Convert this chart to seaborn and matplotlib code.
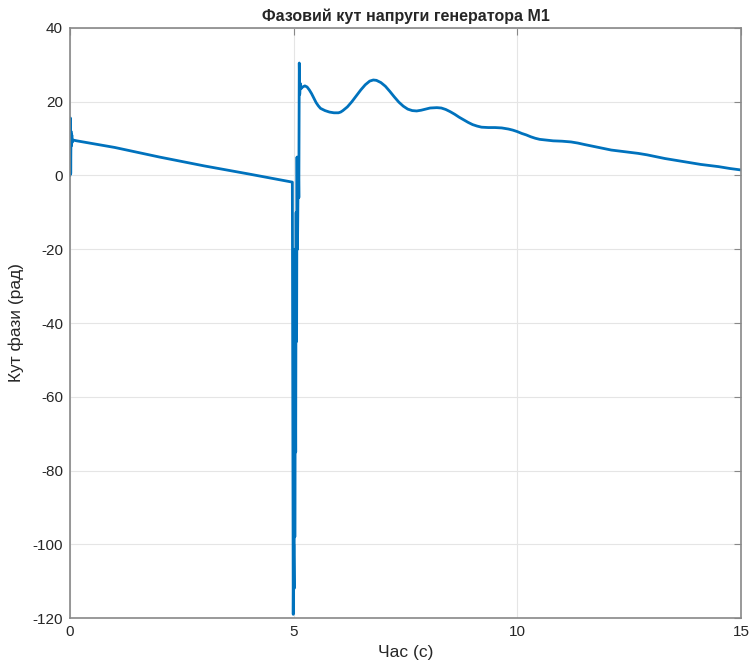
import numpy as np
import pandas as pd
import matplotlib
matplotlib.use("Agg")
import matplotlib.pyplot as plt
import seaborn as sns

# Phase angle of generator M1 voltage
time_start = [0.0, 0.008, 0.015, 0.022, 0.03, 0.04, 0.05, 0.07, 0.15, 1.0, 2.0, 3.0, 4.0, 4.97]
angle_start = [0.0, 15.6, 0.5, 12.0, 8.0, 11.0, 9.0, 9.6, 9.4, 7.6, 5.0, 2.6, 0.4, -1.8]

time_fault = [4.98, 4.99, 5.00, 5.01, 5.02, 5.025, 5.035, 5.045, 5.055, 5.065,
              5.075, 5.085, 5.095, 5.105, 5.115, 5.125, 5.135, 5.145]
angle_fault = [-60, -119, -100, -112, -20, -98, -40, -75, -10, -45,
               5, -20, -6.5, 5, -6, 30.5, 22, 25]

time_after = [5.16, 5.2, 5.25, 5.3, 5.35, 5.4, 5.45, 5.5, 5.55, 5.6, 5.7, 5.8, 5.9,
              6.0, 6.05, 6.1, 6.2, 6.3, 6.4, 6.5, 6.6, 6.7, 6.78, 6.85, 6.95, 7.05,
              7.15, 7.25, 7.35, 7.45, 7.55, 7.65, 7.75, 7.85, 7.95, 8.05, 8.2, 8.3,
              8.4, 8.5, 8.6, 8.7, 8.8, 8.9, 9.0, 9.1, 9.2, 9.35, 9.5, 9.65, 9.8,
              9.9, 10.0, 10.1, 10.2, 10.3, 10.4, 10.5, 10.65, 10.8, 11.0, 11.2,
              11.35, 11.5, 11.7, 11.9, 12.1, 12.3, 12.5, 12.7, 12.9, 13.1, 13.3,
              13.5, 13.7, 13.9, 14.1, 14.3, 14.5, 14.75, 15.0]
angle_after = [23.5, 24.0, 24.3, 24.0, 23.2, 22.2, 21.0, 19.8, 18.9, 18.2, 17.6, 17.2, 17.0,
               17.0, 17.2, 17.6, 18.6, 20.0, 21.6, 23.2, 24.6, 25.6, 25.9, 25.8, 25.2, 24.2,
               22.8, 21.3, 19.9, 18.8, 18.0, 17.6, 17.5, 17.7, 18.0, 18.3, 18.4, 18.3,
               17.9, 17.3, 16.6, 15.8, 15.1, 14.4, 13.8, 13.4, 13.1, 13.0, 13.0, 12.9, 12.6,
               12.3, 11.9, 11.4, 11.0, 10.5, 10.1, 9.8, 9.6, 9.4, 9.3, 9.1,
               8.8, 8.4, 7.9, 7.4, 6.9, 6.6, 6.3, 6.0, 5.6, 5.1, 4.6,
               4.2, 3.8, 3.4, 3.0, 2.7, 2.4, 1.9, 1.5]

df = pd.DataFrame({
    "t": time_start + time_fault + time_after,
    "angle": angle_start + angle_fault + angle_after,
})

sns.set_style("white")
plt.rcParams["font.family"] = ["Liberation Sans", "DejaVu Sans"]
plt.rcParams["axes.unicode_minus"] = False

fig = plt.figure(figsize=(7.49, 6.6), dpi=100)
ax = fig.add_axes([0.0935, 0.0636, 0.8958, 0.894])

sns.lineplot(data=df, x="t", y="angle", ax=ax, color="#0072BD", linewidth=2,
             sort=False, estimator=None)

ax.set_xlim(0, 15)
ax.set_ylim(-120, 40)
ax.set_xticks([0, 5, 10, 15])
ax.set_yticks(np.arange(-120, 41, 20))
ax.grid(True, color="#e5e5e5", linewidth=0.8)
ax.set_axisbelow(True)
for s in ax.spines.values():
    s.set_color("#888888")
    s.set_linewidth(1.2)
ax.tick_params(direction="in", length=5, color="#888888", labelsize=11,
               labelcolor="#262626", top=True, right=True, pad=5)

ax.set_title("Фазовий кут напруги генератора M1", fontsize=11.5,
             fontweight="bold", color="#262626", pad=5)
ax.set_xlabel("Час (с)", fontsize=12.5, color="#262626", labelpad=4)
ax.set_ylabel("Кут фази (рад)", fontsize=12.5, color="#262626", labelpad=6)

fig.savefig("out.png", dpi=100)
